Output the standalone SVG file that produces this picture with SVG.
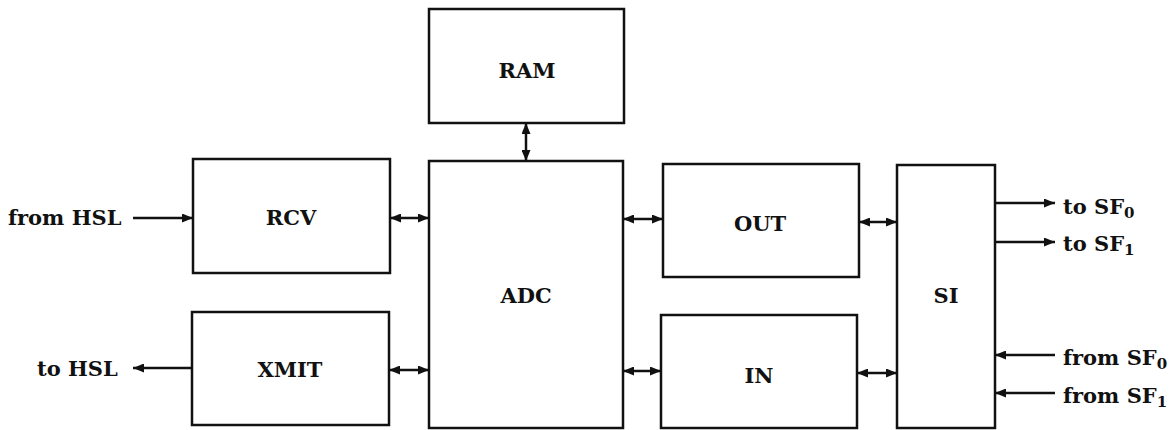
<svg xmlns="http://www.w3.org/2000/svg" width="1175" height="430" viewBox="0 0 1175 430">
<defs>
<marker id="ah" viewBox="0 0 11 9" refX="11" refY="4.5" markerWidth="11" markerHeight="9" markerUnits="userSpaceOnUse" orient="auto-start-reverse">
<path d="M0,0 L11,4.5 L0,9 Z" fill="#111"/>
</marker>
<style>
.box{fill:#fff;stroke:#111;stroke-width:2.5}
.t{font-family:"DejaVu Serif","Liberation Serif",serif;font-weight:bold;font-size:21px;fill:#111}
.c{text-anchor:middle}
.ln{stroke:#111;stroke-width:2.5;fill:none}
.s{font-size:15px}
</style>
</defs>
<rect width="1175" height="430" fill="#fff"/>
<g id="ram"><rect class="box" x="429" y="9" width="195" height="114"/><text class="t c" x="527" y="78">RAM</text></g>
<g id="rcv"><rect class="box" x="193" y="159" width="197" height="114"/><text class="t c" x="291" y="225">RCV</text></g>
<g id="xmit"><rect class="box" x="192" y="312" width="197" height="113"/><text class="t c" x="290" y="377">XMIT</text></g>
<g id="adc"><rect class="box" x="429" y="161" width="194" height="267"/><text class="t c" x="526" y="303">ADC</text></g>
<g id="out"><rect class="box" x="663" y="164" width="196" height="113"/><text class="t c" x="760" y="231">OUT</text></g>
<g id="in"><rect class="box" x="661" y="315" width="196" height="113"/><text class="t c" x="759" y="383">IN</text></g>
<g id="si"><rect class="box" x="897" y="165" width="98" height="263"/><text class="t c" x="946" y="303">SI</text></g>
<g id="labels">
<text class="t" x="8" y="225">from HSL</text>
<text class="t" x="37" y="376">to HSL</text>
<text class="t" x="1063" y="214">to SF<tspan class="s" dy="4">0</tspan></text>
<text class="t" x="1063" y="251">to SF<tspan class="s" dy="4">1</tspan></text>
<text class="t" x="1063" y="365">from SF<tspan class="s" dy="4">0</tspan></text>
<text class="t" x="1063" y="403">from SF<tspan class="s" dy="4">1</tspan></text>
</g>
<g id="connectors">
<line class="ln" x1="133" y1="218" x2="193" y2="218" marker-end="url(#ah)"/>
<line class="ln" x1="192" y1="368" x2="133" y2="368" marker-end="url(#ah)"/>
<line class="ln" x1="390" y1="218" x2="429" y2="218" marker-start="url(#ah)" marker-end="url(#ah)"/>
<line class="ln" x1="389" y1="370" x2="429" y2="370" marker-start="url(#ah)" marker-end="url(#ah)"/>
<line class="ln" x1="526" y1="123" x2="526" y2="161" marker-start="url(#ah)" marker-end="url(#ah)"/>
<line class="ln" x1="623" y1="219" x2="663" y2="219" marker-start="url(#ah)" marker-end="url(#ah)"/>
<line class="ln" x1="623" y1="371" x2="661" y2="371" marker-start="url(#ah)" marker-end="url(#ah)"/>
<line class="ln" x1="859" y1="222" x2="897" y2="222" marker-start="url(#ah)" marker-end="url(#ah)"/>
<line class="ln" x1="857" y1="373" x2="897" y2="373" marker-start="url(#ah)" marker-end="url(#ah)"/>
<line class="ln" x1="995" y1="203" x2="1055" y2="203" marker-end="url(#ah)"/>
<line class="ln" x1="995" y1="242" x2="1055" y2="242" marker-end="url(#ah)"/>
<line class="ln" x1="1055" y1="355" x2="995" y2="355" marker-end="url(#ah)"/>
<line class="ln" x1="1055" y1="393" x2="995" y2="393" marker-end="url(#ah)"/>
</g>
</svg>
